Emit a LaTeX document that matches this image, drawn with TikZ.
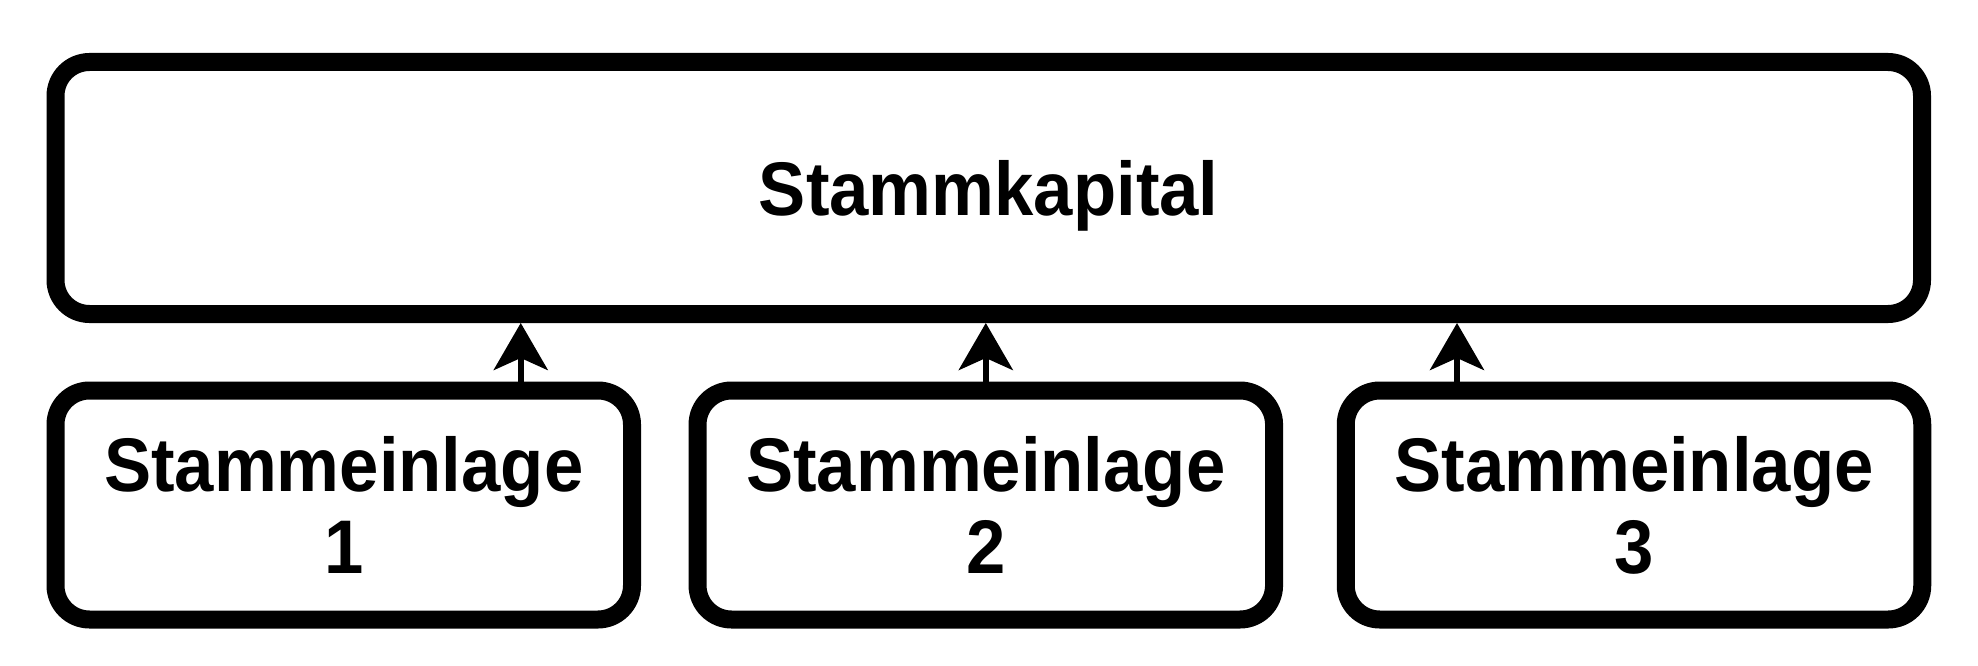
\documentclass[tikz,border=0pt]{standalone}
\usepackage{fontspec}
\newfontfamily\hv[FakeStretch=0.93]{Liberation Sans}
\usetikzlibrary{arrows.meta}
\tikzset{
  box/.style={draw=black, line width=18pt, rounded corners=34pt, fill=white,
    align=center, inner sep=0pt,
    font=\hv\bfseries\fontsize{76}{82}\selectfont},
  arr/.style={line width=6pt, -{Stealth[length=47pt, width=54pt, inset=12pt]}}
}
\begin{document}
\begin{tikzpicture}[x=1pt,y=-1pt]
\useasboundingbox[fill=white] (0,0) rectangle (1978,666);
\node[box, text depth=0pt, minimum width=1866.5pt, minimum height=252pt] (top) at (988.75,188) {Stammkapital};
\node[box, minimum width=576.5pt, minimum height=229pt] (b1) at (343.75,505) {Stammeinlage\\1};
\node[box, minimum width=576.5pt, minimum height=229pt] (b2) at (985.8,505) {Stammeinlage\\2};
\node[box, minimum width=576.5pt, minimum height=229pt] (b3) at (1634,505) {Stammeinlage\\3};
\draw[arr] ([xshift=177pt]b1.north) -- ([xshift=177pt]b1.north |- top.south);
\draw[arr] (b2.north) -- (b2.north |- top.south);
\draw[arr] ([xshift=-177pt]b3.north) -- ([xshift=-177pt]b3.north |- top.south);
\end{tikzpicture}
\end{document}
